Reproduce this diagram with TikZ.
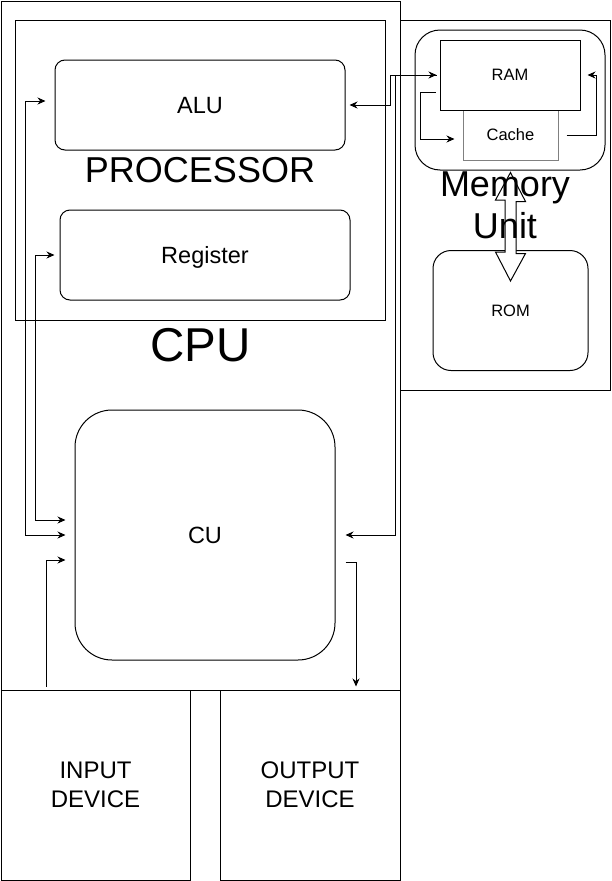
\documentclass[tikz,border=0pt]{standalone}
\usepackage{fontspec}
\setmainfont{Liberation Sans}
\usetikzlibrary{arrows.meta,calc}
\definecolor{CacheGrey}{HTML}{808080}

\begin{document}
\begin{tikzpicture}[x=1pt,y=-1pt,>={Stealth[length=8pt,width=7pt]},line width=1pt,
  frame/.style={draw,inner sep=0pt},
  unit/.style={draw,rounded corners=10pt,inner sep=0pt,text depth=0pt,font=\fontsize{23.5}{28}\selectfont},
  small/.style={text depth=0pt,font=\fontsize{16.5}{20}\selectfont},
  big/.style={font=\fontsize{36}{42}\selectfont,align=center},
  device/.style={frame,align=center,font=\fontsize{24}{29}\selectfont,minimum height=190}]
  \useasboundingbox (0,0) rectangle (611,881);
  % CPU side
  \node[frame,minimum width=399,minimum height=689,font=\fontsize{47.5}{52}\selectfont] (cpu) at (200.5,345.5) {CPU};
  \node[frame,big,minimum width=370,minimum height=300] (proc) at (200,170) {PROCESSOR};
  \node[unit,minimum width=290,minimum height=90] (alu) at (200,105) {ALU};
  \node[unit,minimum width=290,minimum height=90] (reg) at (205,255) {Register};
  \node[unit,rounded corners=37pt,minimum width=260,minimum height=250] (cu) at (205,535) {CU};
  \node[device,minimum width=189] (indev) at (95.5,785) {INPUT\\DEVICE};
  \node[device,minimum width=180] (outdev) at (310,785) {OUTPUT\\DEVICE};
  % memory side
  \node[draw,rounded corners=25pt,minimum width=190,minimum height=140] (memin) at (510,100) {};
  \node[frame,small,draw=CacheGrey,minimum width=95,minimum height=50] (cache) at (510.5,135) {Cache};
  \node[frame,small,minimum width=140,minimum height=70] (ram) at (510,75) {RAM};
  \node[frame,small,rounded corners=18pt,minimum width=155,minimum height=120] (rom) at (510.5,310.5) {ROM};
  \path ([yshift=-12]cache.south) coordinate (up) ([yshift=-31]rom.north) coordinate (dn);
  \filldraw[fill=white] (up) -- ++(15,29) -- ++(-9.5,0) -- ++(0,52) -- ++(9.5,0) -- (dn)
    -- ++(-15,-29) -- ++(9.5,0) -- ++(0,-52) -- ++(-9.5,0) -- cycle;
  \node[frame,big,minimum width=210,minimum height=370] (mem) at (505,205) {Memory\\Unit};
  % connectors
  \draw[<->] ([xshift=4]alu.east) -- ++(41,0) |- ([xshift=-3]ram.west);
  \draw[->] ([xshift=-3]ram.west) -| ([xshift=60]cu.east) -- ([xshift=10]cu.east);
  \draw[<->] ([xshift=-9,yshift=4]alu.west) -| ([xshift=-49]cu.west) -- ([xshift=-9]cu.west);
  \draw[<->] ([xshift=-5]reg.west) -| ([xshift=-39,yshift=15]cu.west) -- ([xshift=-9,yshift=15]cu.west);
  \draw[->] ([xshift=-49,yshift=3]indev.north) |- ([xshift=-9,yshift=-25]cu.west);
  \draw[->] ([xshift=10,yshift=-27]cu.east) -| ([xshift=46,yshift=3]outdev.north);
  \draw[->] ([xshift=-4,yshift=-17]ram.west) -- ++(-15,0) |- ([xshift=-8,yshift=-4]cache.west);
  \draw[->] ([xshift=8]cache.east) -- ++(30,0) |- ([xshift=7]ram.east);
\end{tikzpicture}
\end{document}
